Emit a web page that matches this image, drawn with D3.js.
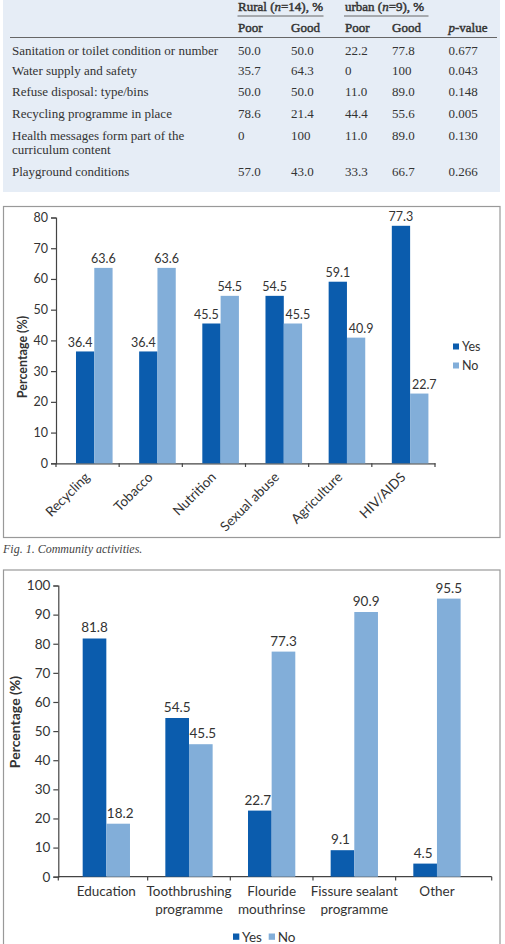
<!DOCTYPE html>
<html><head><meta charset="utf-8">
<script src="https://cdn.jsdelivr.net/npm/d3@7"></script>
<style>body{margin:0;background:#fff}svg{display:block}</style>
</head><body>
<script>
// ---------- DATA ----------
const tableRows = ["Sanitation or toilet condition or number","Water supply and safety","Refuse disposal: type/bins","Recycling programme in place","Health messages form part of the|curriculum content","Playground conditions"];
const ruralPoor = ["50.0","35.7","50.0","78.6","0","57.0"];
const ruralGood = ["50.0","64.3","50.0","21.4","100","43.0"];
const urbanPoor = ["22.2","0","11.0","44.4","11.0","33.3"];
const urbanGood = ["77.8","100","89.0","55.6","89.0","66.7"];
const pValues = ["0.677","0.043","0.148","0.005","0.130","0.266"];

const fig1Categories = ["Recycling","Tobacco","Nutrition","Sexual abuse","Agriculture","HIV/AIDS"];
const fig1Yes = [36.4,36.4,45.5,54.5,59.1,77.3];
const fig1No = [63.6,63.6,54.5,45.5,40.9,22.7];
const fig1Ticks = [0,10,20,30,40,50,60,70,80];

const fig2Categories = ["Education","Toothbrushing|programme","Flouride|mouthrinse","Fissure sealant|programme","Other"];
const fig2Yes = [81.8,54.5,22.7,9.1,4.5];
const fig2No = [18.2,45.5,77.3,90.9,95.5];
const fig2Ticks = [0,10,20,30,40,50,60,70,80,90,100];

const seriesNames = ["Yes","No"];

// ---------- STYLE ----------
const DARK = "#0b5cad", LIGHT = "#82aed9", TXT = "#333", SANS = "Lato, 'Open Sans', sans-serif", SERIF = "'Liberation Serif', 'DejaVu Serif', serif";
const color = d3.scaleOrdinal().domain(seriesNames).range([DARK, LIGHT]);

const svg = d3.select("body").append("svg").attr("width",505).attr("height",944);

// ---------- TABLE ----------
const tbl = svg.append("g").attr("font-family",SERIF).attr("fill",TXT);
tbl.append("rect").attr("x",3).attr("y",0).attr("width",497).attr("height",192).attr("fill","#e6edf6");
const colX = [238, 291, 345, 392, 448.5];
function hdr(x, y, parts){
  const t = tbl.append("text").attr("x",x).attr("y",y).attr("font-size",13).attr("stroke",TXT).attr("stroke-width",0.45);
  parts.forEach(p=>t.append("tspan").attr("font-style",p[1]?"italic":"normal").text(p[0]));
}
hdr(colX[0], 11, [["Rural ("],["n",1],["=14), %"]]);
hdr(colX[2], 11, [["urban ("],["n",1],["=9), %"]]);
tbl.append("line").attr("x1",237.5).attr("x2",323.5).attr("y1",16).attr("y2",16).attr("stroke","#666").attr("stroke-width",1);
tbl.append("line").attr("x1",344).attr("x2",428.5).attr("y1",16).attr("y2",16).attr("stroke","#666").attr("stroke-width",1);
hdr(colX[0], 32, [["Poor"]]);
hdr(colX[1], 32, [["Good"]]);
hdr(colX[2], 32, [["Poor"]]);
hdr(colX[3], 32, [["Good"]]);
hdr(colX[4], 32, [["p",1],["-value"]]);
tbl.append("line").attr("x1",10).attr("x2",497).attr("y1",37.5).attr("y2",37.5).attr("stroke","#666").attr("stroke-width",1.2);
const rowY = [54.5, 75, 96, 117.5, 139.5, 175.5];
tableRows.forEach((r,i)=>{
  const lines = r.split("|");
  lines.forEach((l,j)=>tbl.append("text").attr("x",12).attr("y",rowY[i]+j*14.5).attr("font-size",13).text(l));
  [ruralPoor,ruralGood,urbanPoor,urbanGood,pValues].forEach((col,k)=>{
    tbl.append("text").attr("x",colX[k]).attr("y",rowY[i]).attr("font-size",13).text(col[i]);
  });
});

// grouped bars helper: labels nudged outward when the neighbouring bar is taller
function drawBars(g, cats, series, centerOf, pairW, y, fs, gap, nudge){
  const xs = d3.scaleBand().domain(seriesNames).range([0,pairW]);
  const labels = [];
  cats.forEach((c,i)=>{
    const gx = centerOf(c)-pairW/2;
    seriesNames.forEach((s,k)=>{
      const v = series[k][i], other = series[1-k][i];
      g.append("rect").attr("x",gx+xs(s)).attr("y",y(v)).attr("width",xs.bandwidth()).attr("height",y(0)-y(v)).attr("fill",color(s));
      const shift = other > v ? (k===0 ? -nudge : nudge) : 0;
      labels.push({x:gx+xs(s)+xs.bandwidth()/2+shift, y:y(v)-gap, t:v.toFixed(1)});
    });
  });
  g.selectAll(".vl").data(labels).join("text").attr("x",d=>d.x).attr("y",d=>d.y).attr("text-anchor","middle").attr("font-size",fs).text(d=>d.t);
}

// ---------- FIGURE 1 ----------
(function(){
  const g = svg.append("g").attr("font-family",SANS).attr("fill",TXT);
  g.append("rect").attr("x",3.5).attr("y",206.5).attr("width",496.5).attr("height",331).attr("fill","none").attr("stroke","#999").attr("stroke-width",1.2);
  const y = d3.scaleLinear().domain([0,80]).range([463.3,217.5]);
  const x = d3.scaleBand().domain(fig1Categories).range([56,435]);
  const barShift = 6.7;
  const yAx = g.append("g").attr("transform","translate(56,0)").call(d3.axisLeft(y).tickValues(fig1Ticks).tickSize(5).tickPadding(3));
  yAx.selectAll("text").attr("font-size",12.5).attr("fill",TXT).attr("font-family",SANS);
  yAx.selectAll("line,path").attr("stroke","#444").attr("stroke-width",1.2);
  const xAx = g.append("g").attr("transform","translate(0,463.3)").call(d3.axisBottom(x).tickSize(0).tickFormat(""));
  xAx.select("path").attr("stroke","#444").attr("stroke-width",1.2);
  const bnd = fig1Categories.map(c=>x(c)).concat([x.range()[1]]);
  g.selectAll(".xt").data(bnd).join("line").attr("x1",d=>d).attr("x2",d=>d).attr("y1",463.3).attr("y2",467).attr("stroke","#444").attr("stroke-width",1.2);
  drawBars(g, fig1Categories, [fig1Yes, fig1No], c=>x(c)+x.bandwidth()/2+barShift, 36.6, y, 12.5, 4.5, 5);
  fig1Categories.forEach(c=>{
    g.append("text").attr("transform",`translate(${x(c)+x.bandwidth()/2+3},${478}) rotate(-45)`).attr("text-anchor","end").attr("font-size",13.5).text(c);
  });
  g.append("text").attr("transform","translate(27,357) rotate(-90)").attr("text-anchor","middle").attr("font-size",12.5).attr("font-weight","bold").text("Percentage (%)");
  seriesNames.forEach((s,k)=>{
    g.append("rect").attr("x",453).attr("y",343.5+k*19).attr("width",6).attr("height",6).attr("fill",color(s));
    g.append("text").attr("x",462).attr("y",351+k*19).attr("font-size",12.5).text(s);
  });
  svg.append("text").attr("x",3).attr("y",553).attr("font-family",SERIF).attr("font-style","italic").attr("font-size",12).attr("fill","#444").text("Fig. 1. Community activities.");
})();

// ---------- FIGURE 2 ----------
(function(){
  const g = svg.append("g").attr("font-family",SANS).attr("fill",TXT);
  g.append("rect").attr("x",3.5).attr("y",570).attr("width",496.5).attr("height",400).attr("fill","none").attr("stroke","#999").attr("stroke-width",1.2);
  const y = d3.scaleLinear().domain([0,100]).range([876.7,585.5]);
  const xb = d3.scaleBand().domain(fig2Categories).range([65,478.3]);
  const yAx = g.append("g").attr("transform","translate(58.3,0)").call(d3.axisLeft(y).tickValues(fig2Ticks).tickSize(5).tickPadding(3));
  yAx.selectAll("text").attr("font-size",13.5).attr("fill",TXT).attr("font-family",SANS);
  yAx.selectAll("line,path").attr("stroke","#444").attr("stroke-width",1.2);
  g.append("line").attr("x1",58.3).attr("x2",491.7).attr("y1",876.7).attr("y2",876.7).attr("stroke","#444").attr("stroke-width",1.2);
  const tk = [58.3].concat(fig2Categories.slice(1).map(c=>xb(c))).concat([491.7]);
  g.selectAll(".xt").data(tk).join("line").attr("x1",d=>d).attr("x2",d=>d).attr("y1",876.7).attr("y2",880.5).attr("stroke","#444").attr("stroke-width",1.2);
  drawBars(g, fig2Categories, [fig2Yes, fig2No], c=>xb(c)+xb.bandwidth()/2, 47.3, y, 13.5, 6, 2);
  fig2Categories.forEach(c=>{
    const cx = xb(c)+xb.bandwidth()/2;
    c.split("|").forEach((l,j)=>g.append("text").attr("x",cx).attr("y",896+j*18).attr("text-anchor","middle").attr("font-size",13.5).text(l));
  });
  g.append("text").attr("transform","translate(20,722) rotate(-90)").attr("text-anchor","middle").attr("font-size",14).attr("font-weight","bold").text("Percentage (%)");
  const lx = [233, 268.7];
  seriesNames.forEach((s,k)=>{
    g.append("rect").attr("x",lx[k]).attr("y",933.5).attr("width",6.3).attr("height",6.3).attr("fill",color(s));
    g.append("text").attr("x",lx[k]+9).attr("y",941.5).attr("font-size",13.5).text(s);
  });
})();
</script>
</body></html>
